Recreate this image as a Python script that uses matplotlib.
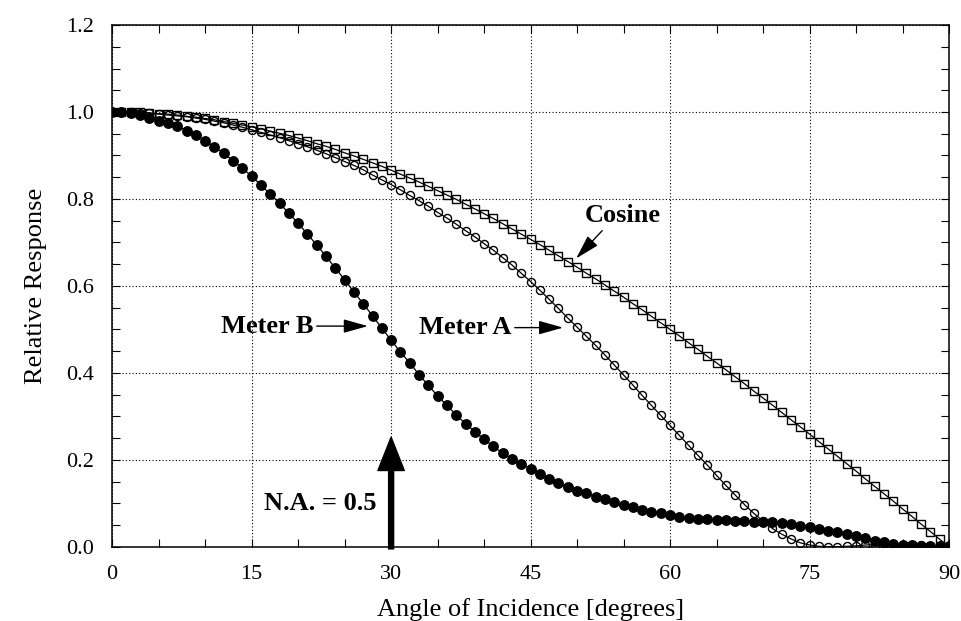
import matplotlib
matplotlib.use("Agg")
import matplotlib.pyplot as plt
from matplotlib.ticker import MultipleLocator, FormatStrFormatter

angle = list(range(0, 91))

cosine = [1.000, 1.000, 0.999, 0.999, 0.998, 0.996, 0.995, 0.993, 0.990, 0.988,
          0.985, 0.982, 0.978, 0.974, 0.970, 0.966, 0.961, 0.956, 0.951, 0.946,
          0.940, 0.934, 0.927, 0.921, 0.914, 0.906, 0.899, 0.891, 0.883, 0.875,
          0.866, 0.857, 0.848, 0.839, 0.829, 0.819, 0.809, 0.799, 0.788, 0.777,
          0.766, 0.755, 0.743, 0.731, 0.719, 0.707, 0.695, 0.682, 0.669, 0.656,
          0.643, 0.629, 0.616, 0.602, 0.588, 0.574, 0.559, 0.545, 0.530, 0.515,
          0.500, 0.485, 0.469, 0.454, 0.438, 0.423, 0.407, 0.391, 0.375, 0.358,
          0.342, 0.326, 0.309, 0.292, 0.276, 0.259, 0.242, 0.225, 0.208, 0.191,
          0.174, 0.156, 0.139, 0.122, 0.105, 0.087, 0.070, 0.052, 0.035, 0.017,
          0.000]

meter_a = [1.000, 1.000, 0.999, 0.998, 0.997, 0.995, 0.993, 0.991, 0.989, 0.986,
           0.983, 0.979, 0.975, 0.970, 0.965, 0.959, 0.953, 0.947, 0.941, 0.934,
           0.927, 0.920, 0.912, 0.904, 0.895, 0.886, 0.877, 0.867, 0.855, 0.844,
           0.833, 0.821, 0.808, 0.796, 0.783, 0.769, 0.756, 0.742, 0.727, 0.713,
           0.697, 0.682, 0.665, 0.648, 0.629, 0.610, 0.590, 0.569, 0.548, 0.526,
           0.505, 0.484, 0.463, 0.441, 0.418, 0.395, 0.372, 0.348, 0.325, 0.302,
           0.279, 0.256, 0.233, 0.210, 0.188, 0.164, 0.141, 0.119, 0.097, 0.077,
           0.059, 0.042, 0.029, 0.018, 0.009, 0.004, 0.001, 0.000, 0.000, 0.001,
           0.002, 0.004, 0.005, 0.006, 0.006, 0.005, 0.004, 0.003, 0.002, 0.001,
           0.000]

meter_b = [1.000, 0.999, 0.997, 0.994, 0.987, 0.980, 0.974, 0.967, 0.957, 0.946,
           0.933, 0.920, 0.905, 0.888, 0.871, 0.852, 0.832, 0.811, 0.790, 0.767,
           0.744, 0.719, 0.694, 0.668, 0.641, 0.614, 0.586, 0.559, 0.531, 0.503,
           0.475, 0.448, 0.423, 0.396, 0.371, 0.347, 0.325, 0.303, 0.283, 0.265,
           0.247, 0.231, 0.215, 0.202, 0.191, 0.178, 0.167, 0.156, 0.146, 0.137,
           0.128, 0.123, 0.115, 0.109, 0.102, 0.096, 0.091, 0.085, 0.081, 0.077,
           0.073, 0.069, 0.066, 0.064, 0.063, 0.062, 0.061, 0.060, 0.059, 0.058,
           0.057, 0.056, 0.054, 0.052, 0.048, 0.045, 0.041, 0.037, 0.033, 0.029,
           0.024, 0.019, 0.014, 0.010, 0.007, 0.004, 0.003, 0.002, 0.002, 0.002,
           0.002]

x_ticks = [0, 15, 30, 45, 60, 75, 90]
y_ticks = [0.0, 0.2, 0.4, 0.6, 0.8, 1.0, 1.2]

plt.rcParams['font.family'] = ['Liberation Serif', 'DejaVu Serif']

fig = plt.figure(figsize=(9.62, 6.21), dpi=100)
ax = fig.add_axes([0.1166, 0.1196, 0.8699, 0.8401])

ax.plot(angle, meter_b, color='black', lw=0.9, marker='o', markersize=6.8,
        markerfacecolor='black', markeredgecolor='black', zorder=3)
ax.plot(angle, meter_a, color='black', lw=0.9, marker='o', markersize=5.8,
        markerfacecolor='none', markeredgecolor='black', markeredgewidth=1.0, zorder=4)
ax.plot(angle, cosine, color='black', lw=0.9, marker='s', markersize=6.0,
        markerfacecolor='none', markeredgecolor='black', markeredgewidth=1.0, zorder=4)

ax.set_xlim(0, 90)
ax.set_ylim(0, 1.2)
ax.set_xticks(x_ticks)
ax.set_yticks(y_ticks)
ax.yaxis.set_major_formatter(FormatStrFormatter('%.1f'))
ax.xaxis.set_minor_locator(MultipleLocator(5))
ax.yaxis.set_minor_locator(MultipleLocator(0.05))
ax.tick_params(which='both', direction='in', top=True, right=True,
               labelsize=16, pad=13, width=0.8)
ax.tick_params(which='major', length=6)
ax.tick_params(which='minor', length=6)
ax.grid(True, which='major', color='black', linestyle=(0, (1, 2)), linewidth=0.8)
for s in ax.spines.values():
    s.set_linewidth(1.1)

ax.set_xlabel('Angle of Incidence [degrees]', fontsize=19, labelpad=10)
ax.set_ylabel('Relative Response', fontsize=19, labelpad=14)

bold = dict(fontsize=19, fontweight='bold', color='black')
thin_arrow = dict(arrowstyle='-|>,head_length=1.5,head_width=0.42', color='black',
                  lw=1.0, shrinkA=0, shrinkB=0, mutation_scale=10)

ax.text(21.6, 0.5075, 'Meter B', ha='right', va='center', **bold)
ax.annotate('', xy=(27.5, 0.5075), xytext=(22.0, 0.5075), arrowprops=thin_arrow)

ax.text(42.96, 0.504, 'Meter A', ha='right', va='center', **bold)
ax.annotate('', xy=(48.5, 0.504), xytext=(43.3, 0.504), arrowprops=thin_arrow)

ax.text(54.9, 0.761, 'Cosine', ha='center', va='center', **bold)
ax.annotate('', xy=(49.9, 0.663), xytext=(52.7, 0.727), arrowprops=thin_arrow)

ax.text(28.4, 0.100, 'N.A. = 0.5', ha='right', va='center', **bold)
ax.annotate('', xy=(30, 0.252), xytext=(30, -0.005), annotation_clip=False,
            arrowprops=dict(width=3.6, headwidth=19, headlength=24,
                            facecolor='black', edgecolor='black', shrink=0))

fig.savefig('out.png', dpi=100)
